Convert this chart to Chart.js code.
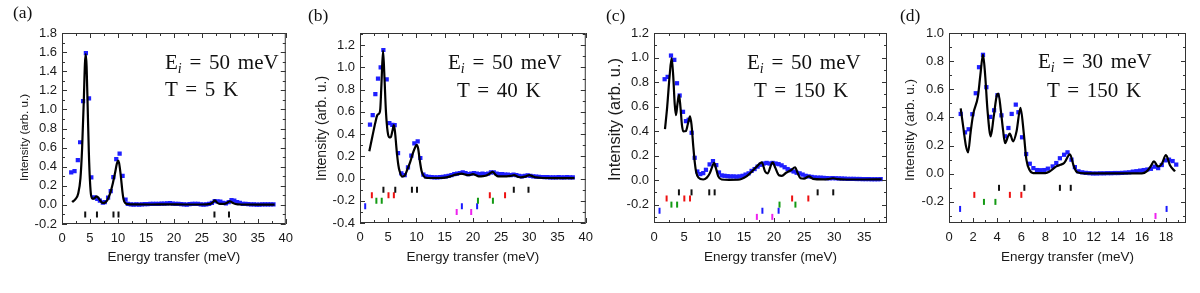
<!DOCTYPE html>
<html>
<head>
<meta charset="utf-8">
<script src="https://cdn.jsdelivr.net/npm/chart.js@4.4.0/dist/chart.umd.min.js"></script>
<style>
  body { margin: 0; background: #fff; }
  #wrap { position: relative; width: 1200px; height: 293px; overflow: hidden; }
  .panel { position: absolute; top: 0; width: 300px; height: 293px; }
  .lab { position: absolute; font-family: "Liberation Serif", serif; color: #111; line-height: 1; white-space: nowrap; }
  .ann { font-size: 21px; word-spacing: 2.5px; }
  .tag { font-size: 17.5px; }
  .ann sub { font-size: 14px; font-style: italic; vertical-align: -4px; line-height: 0; }
</style>
</head>
<body>
<div id="wrap">
  <div class="panel" style="left:0px"><canvas id="ca" width="300" height="293"></canvas></div>
  <div class="panel" style="left:300px"><canvas id="cb" width="300" height="293"></canvas></div>
  <div class="panel" style="left:600px"><canvas id="cc" width="300" height="293"></canvas></div>
  <div class="panel" style="left:900px"><canvas id="cd" width="300" height="293"></canvas></div>

  <div class="lab tag" style="left:13px;top:4px">(a)</div>
  <div class="lab tag" style="left:308px;top:7px">(b)</div>
  <div class="lab tag" style="left:606px;top:7px">(c)</div>
  <div class="lab tag" style="left:900px;top:7px">(d)</div>

  <div class="lab ann" style="left:165px;top:52px">E<sub>i</sub> = 50 meV</div>
  <div class="lab ann" style="left:165px;top:79px">T = 5 K</div>
  <div class="lab ann" style="left:448px;top:52px">E<sub>i</sub> = 50 meV</div>
  <div class="lab ann" style="left:457px;top:80px">T = 40 K</div>
  <div class="lab ann" style="left:747px;top:52px">E<sub>i</sub> = 50 meV</div>
  <div class="lab ann" style="left:754px;top:80px">T = 150 K</div>
  <div class="lab ann" style="left:1038px;top:51px">E<sub>i</sub> = 30 meV</div>
  <div class="lab ann" style="left:1047px;top:80px">T = 150 K</div>
</div>
<script>
// measured intensities (blue squares), [energy, intensity]
var aPoints = [[1.65,.34],[2.24,.354],[2.83,.47],[3.24,.656],[3.77,1.087],[4.27,1.59],[4.83,1.115],[5.24,.287],[5.71,.08],[6.3,.063],[6.77,.045],[7.3,.024],[7.65,.028],[8.24,.077],[8.71,.143],[9.18,.29],[9.7,.48],[10.3,.537],[10.83,.305],[11.36,.056],[11.77,.01],
  [12.3,.005],[12.8,.003],[13.3,.005],[13.8,.004],[14.3,.006],[14.8,.008],[15.3,.008],[15.8,.01],[16.3,.012],[16.8,.01],[17.3,.012],[17.8,.014],[18.3,.013],[18.8,.016],[19.3,.018],[19.8,.014],[20.3,.012],[20.8,.01],[21.3,.008],[21.8,.006],[22.3,.004],[22.8,.008],[23.3,.01],[23.8,.012],[24.3,.01],[24.8,.006],[25.3,.004],[25.8,.005],[26.3,.01],[26.8,.02],[27.3,.04],[27.8,.038],[28.3,.035],[28.8,.02],[29.3,.015],[29.8,.03],[30.3,.05],[30.8,.045],[31.3,.03],[31.8,.02],[32.3,.012],[32.8,.01],[33.3,.008],[33.8,.006],[34.3,.005],[34.8,.004],[35.3,.004],[35.8,.005],[36.3,.006],[36.8,.006],[37.3,.005],[37.8,.005]];
var bPoints = [[1.77,.486],[2.25,.571],[2.72,.76],[3.19,.9],[3.66,1.0],[4.14,1.157],[4.73,.893],[5.2,.498],[5.73,.483],[6.14,.48],[6.74,.228],[7.33,.046],[7.92,.03],[8.5,.1],[9.1,.207],[9.63,.316],[10.22,.334],[10.69,.185],[11.23,.036],
  [11.7,.02],[12.2,.015],[12.7,.012],[13.2,.01],[13.7,.01],[14.2,.012],[14.7,.015],[15.2,.02],[15.7,.025],[16.2,.03],[16.7,.04],[17.2,.045],[17.7,.05],[18.2,.055],[18.7,.05],[19.2,.04],[19.7,.045],[20.2,.05],[20.7,.045],[21.2,.04],[21.7,.045],[22.2,.04],[22.7,.045],[23.2,.055],[23.7,.055],[24.2,.045],[24.7,.04],[25.2,.04],[25.7,.035],[26.2,.035],[26.7,.03],[27.2,.035],[27.7,.03],[28.2,.025],[28.7,.02],[29.2,.025],[29.7,.028],[30.2,.025],[30.7,.02],[31.2,.018],[31.7,.015],[32.2,.014],[32.7,.012],[33.2,.012],[33.7,.01],[34.2,.01],[34.7,.01],[35.2,.012],[35.7,.01],[36.2,.01],[36.7,.012],[37.2,.01],[37.7,.01]];
var cPoints = [[1.77,.823],[2.27,.842],[2.83,1.016],[3.38,.981],[3.83,.79],[4.27,.69],[4.83,.557],[5.32,.481],[5.77,.492],[6.27,.386],[6.77,.182],[7.21,.07],[7.71,.049],[8.2,.057],[8.65,.084],[9.26,.128],[9.82,.155],[10.37,.122],[10.82,.062],[11.26,.038],
  [11.75,.035],[12.25,.032],[12.75,.03],[13.25,.03],[13.75,.028],[14.25,.03],[14.75,.035],[15.25,.045],[15.75,.055],[16.25,.075],[16.75,.09],[17.25,.11],[17.75,.125],[18.25,.135],[18.75,.14],[19.25,.135],[19.75,.14],[20.25,.135],[20.75,.13],[21.25,.12],[21.75,.105],[22.25,.09],[22.75,.08],[23.25,.07],[23.75,.06],[24.25,.055],[24.75,.045],[25.25,.035],[25.75,.03],[26.25,.026],[26.75,.022],[27.25,.02],[27.75,.02],[28.25,.018],[28.75,.016],[29.25,.015],[29.75,.016],[30.25,.015],[30.75,.014],[31.25,.013],[31.75,.012],[32.25,.01],[32.75,.01],[33.25,.01],[33.75,.009],[34.25,.009],[34.75,.008],[35.25,.008],[35.75,.008],[36.25,.007],[36.75,.007],[37.25,.007],[37.75,.008]];
var dPoints = [[0.97,.425],[1.33,.294],[1.63,.316],[1.94,.423],[2.22,.572],[2.49,.757],[2.82,.845],[3.1,.615],[3.43,.404],[3.74,.451],[4.02,.558],[4.35,.415],[4.65,.266],[4.93,.325],[5.2,.425],[5.54,.491],[5.76,.437],[6.06,.259],[6.4,.14],[6.7,.071],[7.0,.04],[7.3,.026],[7.6,.025],[7.9,.026],[8.2,.036],[8.6,.052],[8.9,.076],[9.2,.11],[9.55,.135],[9.83,.152],[10.16,.1],[10.44,.047],[10.74,.017],[11.05,.01],
  [11.35,.006],[11.65,.004],[11.95,.002],[12.25,.002],[12.55,.003],[12.85,.003],[13.15,.004],[13.45,.004],[13.75,.005],[14.05,.005],[14.35,.006],[14.65,.008],[14.95,.01],[15.25,.015],[15.55,.018],[15.85,.022],[16.15,.026],[16.45,.03],[16.75,.035],[17.05,.05],[17.35,.04],[17.65,.062],[17.95,.095],[18.25,.1],[18.55,.09],[18.85,.065]];

// calculated spectra (black lines)
var aFit = [[1.8,.03],[2.4,.06],[2.9,.12],[3.3,.28],[3.6,.6],[3.9,1.1],[4.1,1.48],[4.25,1.58],[4.4,1.45],[4.6,1.0],[4.8,.55],[5.0,.25],[5.2,.1],[5.5,.065],[5.8,.07],[6.2,.09],[6.5,.075],[6.9,.04],[7.3,.02],[7.7,.025],[8.1,.05],[8.6,.12],[9.1,.23],[9.5,.34],[9.8,.43],[10.0,.465],[10.2,.44],[10.5,.31],[10.8,.14],[11.0,.06],[11.3,.02],[11.8,.008],[13,.005],[16,.004],[19,.006],[22,.004],[25,.004],[26.5,.01],[27.0,.03],[27.35,.048],[27.7,.025],[28.2,.01],[29,.01],[29.6,.025],[30.0,.038],[30.4,.025],[31,.01],[32,.004],[35,.003],[38,.003]];
var bFit = [[1.65,.246],[2.2,.38],[2.7,.5],[3.07,.571],[3.4,.586],[3.6,.63],[3.8,.85],[4.08,1.15],[4.3,.95],[4.6,.6],[4.9,.42],[5.2,.37],[5.45,.373],[5.75,.43],[6.0,.48],[6.2,.42],[6.5,.25],[6.8,.12],[7.0,.07],[7.45,.018],[7.9,.025],[8.3,.07],[8.9,.15],[9.45,.24],[9.8,.285],[10.05,.304],[10.3,.27],[10.6,.16],[10.9,.07],[11.1,.04],[11.5,.01],[12.5,.005],[14,.005],[15,.008],[16,.02],[17,.035],[18,.045],[18.7,.035],[19.2,.03],[20,.04],[20.6,.03],[21,.02],[21.8,.022],[22.5,.03],[23,.045],[23.5,.06],[24,.035],[24.5,.02],[25.2,.02],[26,.02],[26.8,.025],[27.3,.03],[27.8,.02],[28.5,.01],[29.4,.02],[30,.03],[30.6,.02],[31.2,.01],[32.5,.005],[35,.004],[38,.004]];
var cFit = [[1.83,.416],[2.2,.6],[2.6,.85],[2.94,.995],[3.2,.85],[3.45,.62],[3.66,.53],[3.9,.62],[4.16,.696],[4.4,.6],[4.65,.45],[4.88,.397],[5.3,.4],[5.65,.46],[6.0,.52],[6.25,.45],[6.55,.27],[6.8,.14],[7.0,.07],[7.4,.02],[8.2,.005],[8.8,.02],[9.3,.057],[9.7,.11],[10.0,.14],[10.3,.1],[10.7,.03],[11.26,.005],[12.5,.002],[14,.003],[15.4,.03],[16.3,.07],[17.1,.11],[17.95,.145],[18.5,.07],[18.9,.055],[19.75,.145],[20.2,.1],[20.8,.04],[21.3,.035],[22.0,.06],[22.8,.08],[23.5,.105],[23.9,.06],[24.4,.015],[25.0,.012],[25.8,.03],[26.5,.01],[28,.006],[29,.008],[29.8,.015],[30.6,.008],[32,.005],[35,.005],[37.9,.006]];
var dFit = [[0.97,.465],[1.2,.32],[1.4,.2],[1.58,.152],[1.8,.3],[2.0,.42],[2.4,.55],[2.6,.7],[2.82,.847],[3.0,.7],[3.19,.456],[3.46,.266],[3.7,.4],[3.99,.563],[4.1,.57],[4.3,.45],[4.49,.306],[4.65,.218],[4.9,.266],[5.04,.285],[5.32,.23],[5.6,.3],[5.93,.468],[6.2,.29],[6.42,.1],[6.7,.024],[6.98,.005],[8.0,.005],[8.36,.017],[8.9,.052],[9.25,.064],[9.55,.076],[10.03,.138],[10.36,.052],[10.63,.01],[11.2,.003],[16.0,.003],[16.4,.017],[16.73,.052],[17.0,.088],[17.34,.052],[17.64,.069],[18.0,.133],[18.33,.06],[18.75,.017]];

// transition markers (energies) and the level each row sits at
var blackTicks = [4.15, 6.25, 9.2, 10.1, 27.25, 29.85];
var redTicks = [2.1, 5.05, 6.0, 23.0, 25.7];
var greenTicks = [2.9, 3.85, 20.9, 23.55];
var blueTicks = [0.92, 18.05, 20.75];
var magentaTicks = [17.13, 19.7];
var rowLevels = [-0.1, -0.15, -0.2, -0.25, -0.3];

// tick labels
var xTicks40 = [0, 5, 10, 15, 20, 25, 30, 35, 40];
var xTicks35 = [0, 5, 10, 15, 20, 25, 30, 35];
var xTicks18 = [0, 2, 4, 6, 8, 10, 12, 14, 16, 18];
var yTicksA = [-0.2, 0, 0.2, 0.4, 0.6, 0.8, 1.0, 1.2, 1.4, 1.6, 1.8];
var yTicksB = [-0.4, -0.2, 0, 0.2, 0.4, 0.6, 0.8, 1.0, 1.2];
var yTicksC = [-0.2, 0, 0.2, 0.4, 0.6, 0.8, 1.0, 1.2];
var yTicksD = [-0.2, 0, 0.2, 0.4, 0.6, 0.8, 1.0];

var FONT = '"Liberation Sans", Arial, sans-serif';
var TXT = '#1a1a1a';

// frame + inward ticks on all 4 sides + y title
var framePlugin = {
  id: 'frame',
  afterDraw: function(chart) {
    var o = chart.options.plugins.frame;
    var ctx = chart.ctx, a = chart.chartArea, x = chart.scales.x, y = chart.scales.y;
    ctx.save();
    ctx.strokeStyle = '#333';
    ctx.lineWidth = 1;
    ctx.strokeRect(a.left + 0.5, a.top + 0.5, a.right - a.left - 1, a.bottom - a.top - 1);
    ctx.beginPath();
    function isMajor(v, step) { var r = v / step; return Math.abs(r - Math.round(r)) < 1e-6; }
    var k, v, len, p;
    for (k = Math.ceil(x.min / o.xMinor - 1e-6); k * o.xMinor <= x.max + 1e-6; k++) {
      v = k * o.xMinor;
      len = isMajor(v, o.xMajor) ? 5 : 3;
      p = Math.round(x.getPixelForValue(v)) + 0.5;
      ctx.moveTo(p, a.bottom); ctx.lineTo(p, a.bottom - len);
      ctx.moveTo(p, a.top); ctx.lineTo(p, a.top + len);
    }
    for (k = Math.ceil(y.min / 0.1 - 1e-6); k * 0.1 <= y.max + 1e-6; k++) {
      v = k * 0.1;
      len = isMajor(v, 0.2) ? 5 : 3;
      p = Math.round(y.getPixelForValue(v)) + 0.5;
      ctx.moveTo(a.left, p); ctx.lineTo(a.left + len, p);
      ctx.moveTo(a.right, p); ctx.lineTo(a.right - len, p);
    }
    ctx.stroke();
    ctx.translate(o.titleX, o.titleBottom);
    ctx.rotate(-Math.PI / 2);
    ctx.font = o.titleSize + 'px ' + FONT;
    ctx.fillStyle = TXT;
    ctx.textAlign = 'left';
    ctx.textBaseline = 'middle';
    ctx.fillText('Intensity (arb. u.)', 0, 0);
    ctx.restore();
  }
};

function toXY(arr) { return arr.map(function(p) { return {x: p[0], y: p[1]}; }); }

function markerSets(rows, xMax) {
  var all = [[blackTicks, '#111'], [redTicks, '#ee1111'], [greenTicks, '#139a13'], [blueTicks, '#1a1aff'], [magentaTicks, '#ee22ee']];
  var out = [];
  for (var i = 0; i < rows; i++) {
    var lvl = rowLevels[i];
    out.push({
      data: all[i][0].filter(function(e) { return e <= xMax - 0.15; }).map(function(e) { return {x: e, y: lvl}; }),
      pointStyle: 'line', rotation: 90, pointRadius: 3, borderWidth: 2,
      borderColor: all[i][1], backgroundColor: all[i][1], showLine: false
    });
  }
  return out;
}

function makePanel(id, pts, fit, xMax, yMin, yMax, xTicks, xMajor, xMinor, yTicks, rows, box, title) {
  var datasets = [
    {data: toXY(fit), showLine: true, borderColor: '#000', borderWidth: 2.2, pointRadius: 0, cubicInterpolationMode: 'monotone', fill: false},
    {data: toXY(pts), pointStyle: 'rect', pointRadius: 3, backgroundColor: '#1f1fff', borderWidth: 0, showLine: false}
  ].concat(markerSets(rows, xMax));

  new Chart(document.getElementById(id), {
    type: 'scatter',
    data: {datasets: datasets},
    options: {
      responsive: false,
      animation: false,
      events: [],
      layout: {padding: {top: box.t, right: 300 - box.r, left: 0, bottom: 0}},
      plugins: {
        legend: {display: false},
        tooltip: {enabled: false},
        frame: {xMajor: xMajor, xMinor: xMinor, titleX: title.x, titleBottom: 181, titleSize: title.size}
      },
      scales: {
        x: {
          type: 'linear', min: 0, max: xMax,
          grid: {display: false, drawTicks: false},
          border: {display: false},
          afterBuildTicks: function(s) { s.ticks = xTicks.map(function(v) { return {value: v}; }); },
          afterFit: function(s) { s.height = 293 - box.b; },
          ticks: {padding: 7, color: TXT, font: {family: FONT, size: 13}, maxRotation: 0, autoSkip: false,
                  callback: function(v) { return String(v); }},
          title: {display: true, text: 'Energy transfer (meV)', color: TXT, font: {family: FONT, size: 13.5}, padding: {top: 0, bottom: 28}}
        },
        y: {
          type: 'linear', min: yMin, max: yMax,
          grid: {display: false, drawTicks: false},
          border: {display: false},
          afterBuildTicks: function(s) { s.ticks = yTicks.map(function(v) { return {value: v}; }); },
          afterFit: function(s) { s.width = box.l; },
          ticks: {padding: 5, color: TXT, font: {family: FONT, size: 13}, autoSkip: false,
                  callback: function(v) { return v.toFixed(1); }}
        }
      }
    },
    plugins: [framePlugin]
  });
}

makePanel('ca', aPoints, aFit, 40, -0.2, 1.8, xTicks40, 5, 2.5, yTicksA, 1, {l: 62, r: 291, t: 33, b: 224}, {x: 25, size: 11.6});
makePanel('cb', bPoints, bFit, 40, -0.4, 1.31, xTicks40, 5, 2.5, yTicksB, 5, {l: 60, r: 286, t: 33, b: 223}, {x: 22, size: 14});
makePanel('cc', cPoints, cFit, 38.8, -0.35, 1.2, xTicks35, 5, 2.5, yTicksC, 5, {l: 54, r: 287, t: 33, b: 223}, {x: 15, size: 16.4});
makePanel('cd', dPoints, dFit, 19.66, -0.35, 1.0, xTicks18, 2, 1, yTicksD, 5, {l: 49, r: 286, t: 33, b: 223}, {x: 10, size: 13.6});
</script>
</body>
</html>
